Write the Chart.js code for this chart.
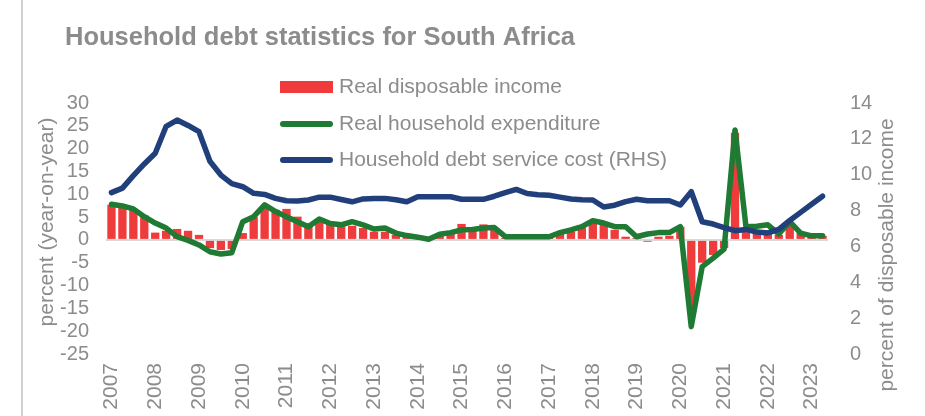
<!DOCTYPE html>
<html>
<head>
<meta charset="utf-8">
<script src="https://cdn.jsdelivr.net/npm/chart.js@4.4.0/dist/chart.umd.min.js"></script>
<style>
  html, body { margin: 0; padding: 0; background: #fff; }
  #wrap { width: 925px; height: 416px; }
</style>
</head>
<body>
<div id="wrap"><canvas id="grafico" width="925" height="416"></canvas></div>
<script>
// Dados trimestrais, 2007T1 a 2023T2
const anos = ['2007', '2008', '2009', '2010', '2011', '2012', '2013', '2014', '2015',
  '2016', '2017', '2018', '2019', '2020', '2021', '2022', '2023'];

const trimestres = [];
anos.forEach(a => {
  for (let q = 1; q <= 4; q++) {
    if (a === '2023' && q > 2) break;
    trimestres.push(a + 'Q' + q);
  }
});

// Real disposable income (% a/a)
const rendaReal = [
  7.7, 7.3, 6.6, 5.4, 1.6, 2.0, 2.4, 2.0, 1.1, -1.8, -2.2, -2.0,
  1.5, 5.0, 7.3, 6.6, 6.8, 5.1, 3.7, 4.4, 3.7, 3.0,
  3.1, 2.6, 1.8, 1.8, 1.1, 1.0, 0.6, 0.5, 1.1, 1.6,
  3.5, 2.6, 3.4, 2.6, 0.4, 0.5, 0.6, 0.6, 0.8, 1.6,
  1.8, 2.8, 4.0, 3.3, 2.2, 0.7, 0.4, -0.4, 0.7, 0.9,
  2.9, -15.0, -5.0, -3.3, -1.8, 23.5, 2.6, 1.8, 1.8, 1.1,
  3.3, 1.5, 0.9, 0.9
];

// Real household expenditure (% a/a)
const consumoReal = [
  7.8, 7.45, 6.8, 5.1, 3.7, 2.6, 0.7, -0.1, -1.1, -2.6, -3.1, -2.8,
  4.0, 5.1, 7.7, 6.2, 5.1, 4.0, 2.9, 4.6, 3.6, 3.3,
  4.0, 3.3, 2.4, 2.6, 1.5, 0.95, 0.6, 0.15, 1.25, 1.6,
  2.2, 2.3, 2.6, 2.7, 0.7, 0.7, 0.7, 0.7, 0.7, 1.6,
  2.2, 2.9, 4.2, 3.7, 2.9, 2.9, 0.7, 1.3, 1.6, 1.6,
  2.9, -19.0, -5.85, -4.0, -2.0, 24.1, 2.9, 3.0, 3.3, 1.3,
  4.0, 1.5, 0.9, 0.9
];

// Household debt service cost (% da renda disponível, eixo direito)
const custoDivida = [
  9.0, 9.25, 9.95, 10.6, 11.2, 12.7, 13.05, 12.75, 12.4, 10.75, 9.98, 9.5,
  9.33, 8.96, 8.9, 8.68, 8.55, 8.53, 8.59, 8.75, 8.75, 8.62,
  8.49, 8.65, 8.68, 8.68, 8.6, 8.49, 8.77, 8.77, 8.77, 8.77,
  8.63, 8.63, 8.63, 8.8, 9.0, 9.18, 8.95, 8.88, 8.85, 8.75,
  8.65, 8.6, 8.59, 8.2, 8.3, 8.5, 8.63, 8.55, 8.55, 8.55,
  8.31, 9.05, 7.38, 7.25, 7.05, 6.88, 6.95, 6.8, 6.75, 6.95,
  7.45, 7.9, 8.35, 8.8
];

const titulo = 'Household debt statistics for South Africa';
const tituloEsq = 'percent (year-on-year)';
const tituloDir = 'percent of disposable income';

const cinza = '#8c8c8c';
const fonte = '"Liberation Sans", Arial, sans-serif';
Chart.defaults.font.family = fonte;

// Título, legenda e títulos dos eixos desenhados à mão
const decoracao = {
  id: 'decoracao',
  beforeDraw(chart) {
    const c = chart.ctx;
    c.save();
    c.strokeStyle = '#d0d0d0';
    c.lineWidth = 2;
    c.beginPath();
    c.moveTo(22, 0);
    c.lineTo(22, 416);
    c.stroke();
    c.restore();
  },
  afterDraw(chart) {
    const c = chart.ctx;
    c.save();
    c.fillStyle = cinza;
    c.textBaseline = 'middle';
    c.font = 'bold 25.5px ' + fonte;
    c.fillText(titulo, 65, 38);

    // legenda
    c.font = '21px ' + fonte;
    const ys = [87, 124, 160];
    chart.data.datasets.forEach((ds, i) => {
      const y = ys[i];
      if (ds.type === 'bar') {
        c.fillStyle = ds.backgroundColor;
        c.fillRect(280, y - 6, 53, 12);
      } else {
        c.strokeStyle = ds.borderColor;
        c.lineWidth = 6;
        c.lineCap = 'round';
        c.beginPath();
        c.moveTo(283, y);
        c.lineTo(330, y);
        c.stroke();
      }
      c.fillStyle = cinza;
      c.textAlign = 'left';
      c.fillText(ds.label, 339, y);
    });

    // títulos dos eixos
    c.textAlign = 'center';
    c.save();
    c.translate(47, 222);
    c.rotate(-Math.PI / 2);
    c.fillText(tituloEsq, 0, 0);
    c.restore();
    c.save();
    c.translate(887, 255);
    c.rotate(-Math.PI / 2);
    c.fillText(tituloDir, 0, 0);
    c.restore();
    c.restore();
  }
};

const ctx = document.getElementById('grafico').getContext('2d');
const grafico = new Chart(ctx, {
  type: 'bar',
  data: {
    labels: trimestres,
    datasets: [
      {
        type: 'bar',
        label: 'Real disposable income',
        data: rendaReal,
        backgroundColor: '#ef3b3b',
        categoryPercentage: 1,
        barPercentage: 0.76,
        yAxisID: 'y',
        order: 3
      },
      {
        type: 'line',
        label: 'Real household expenditure',
        data: consumoReal,
        borderColor: '#1f7a34',
        borderWidth: 5.5,
        pointRadius: 0,
        tension: 0,
        borderJoinStyle: 'round',
        borderCapStyle: 'round',
        yAxisID: 'y',
        order: 2
      },
      {
        type: 'line',
        label: 'Household debt service cost (RHS)',
        data: custoDivida,
        borderColor: '#213f7b',
        borderWidth: 5.5,
        pointRadius: 0,
        tension: 0,
        borderJoinStyle: 'round',
        borderCapStyle: 'round',
        yAxisID: 'y1',
        order: 1
      }
    ]
  },
  options: {
    responsive: false,
    animation: false,
    devicePixelRatio: 1,
    layout: { padding: { top: 103, left: 0, right: 0, bottom: 0 } },
    plugins: {
      legend: { display: false },
      tooltip: { enabled: false }
    },
    scales: {
      x: {
        grid: { display: false, drawTicks: false },
        border: { display: false },
        ticks: {
          autoSkip: false,
          maxRotation: 90,
          minRotation: 90,
          padding: 9,
          color: cinza,
          font: { size: 21 },
          callback: (v, i) => (i % 4 === 0 ? anos[i / 4] : '')
        },
        afterFit: s => { s.height = 62; }
      },
      y: {
        position: 'left',
        min: -25,
        max: 30,
        ticks: { stepSize: 5, autoSkip: false, padding: 17, color: cinza, font: { size: 20 } },
        grid: {
          drawTicks: false,
          lineWidth: 2,
          color: c => (c.tick && c.tick.value === 0 ? '#d9d9d9' : 'rgba(0,0,0,0)')
        },
        border: { display: false },
        afterFit: s => { s.width = 106; }
      },
      y1: {
        position: 'right',
        min: 0,
        max: 14,
        ticks: { stepSize: 2, autoSkip: false, padding: 22, color: cinza, font: { size: 20 } },
        grid: { display: false, drawTicks: false },
        border: { display: false },
        afterFit: s => { s.width = 97; }
      }
    }
  },
  plugins: [decoracao]
});
</script>
</body>
</html>
